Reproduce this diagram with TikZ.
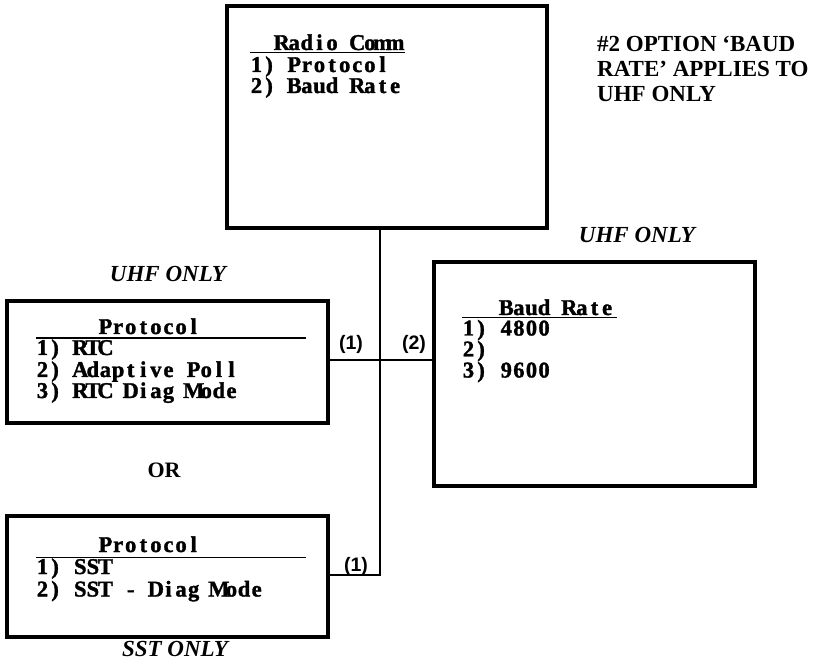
\documentclass[tikz,border=0pt]{standalone}
\usepackage{fontspec}
\setmainfont{Liberation Serif}
\newfontfamily\sansf{Liberation Sans}
\newfontfamily\boxf{Liberation Serif}[BoldFeatures={FakeBold=1.5}]
\ExplSyntaxOn
\NewDocumentCommand\gridtext{m}
  { \str_map_inline:nn {#1} { \makebox[12.6pt][c]{##1} } }
\ExplSyntaxOff
\begin{document}
\begin{tikzpicture}[x=1pt,y=-1pt,
  box/.style={draw,line width=4pt,rectangle,inner sep=0pt},
  conn/.style={line width=2pt},
  uline/.style={line width=1.8pt},
  mono/.style={font=\boxf\bfseries\fontsize{22.5}{22}\selectfont,anchor=base west,inner sep=0pt},
  note/.style={font=\bfseries\fontsize{23}{25}\selectfont,anchor=base west,inner sep=0pt},
  tag/.style={font=\bfseries\itshape\fontsize{23}{25}\selectfont,anchor=base,inner sep=0pt},
  num/.style={font=\sansf\bfseries\fontsize{19.5}{19.5}\selectfont,inner sep=0pt}]
\useasboundingbox (0,0) rectangle (820,668);
% boxes
\node[box,minimum width=320pt,minimum height=222pt] (top) at (387,117) {};
\node[box,minimum width=321pt,minimum height=122pt] (p1) at (167.5,362) {};
\node[box,minimum width=321pt,minimum height=121pt] (p2) at (167.5,576.5) {};
\node[box,minimum width=321pt,minimum height=224pt] (baud) at (594.5,374) {};
% connectors
\coordinate (j) at (380,575);
\coordinate (h) at (380,360);
\draw[conn] (top.south -| j) -- (j) -- (p2.east |- j);
\draw[conn] (p1.east |- h) -- (baud.west |- h);
% Radio Comm text
\node[mono] (rc0) at (275.2,50) {\gridtext{Radio Comm}};
\draw[uline] (250,52.5) -- (405,52.5);
\node[mono] (rc1) at (250,72) {\gridtext{1) Protocol}};
\node[mono] (rc2) at (250,93) {\gridtext{2) Baud Rate}};
% Protocol 1
\node[mono] (pa0) at (99,334) {\gridtext{Protocol}};
\draw[uline] (36,338) -- (306,338);
\node[mono] (pa1) at (36,355) {\gridtext{1) RTC}};
\node[mono] (pa2) at (36,377) {\gridtext{2) Adaptive Poll}};
\node[mono] (pa3) at (36,398) {\gridtext{3) RTC Diag Mode}};
% Protocol 2
\node[mono] (pb0) at (99,552) {\gridtext{Protocol}};
\draw[uline] (36,557.5) -- (306,557.5);
\node[mono] (pb1) at (36,574) {\gridtext{1) SST}};
\node[mono] (pb2) at (36,596.5) {\gridtext{2) SST - Diag Mode}};
% Baud Rate
\node[mono] (br0) at (499.8,315) {\gridtext{Baud Rate}};
\draw[uline] (462,317.5) -- (617,317.5);
\node[mono] (br1) at (462,335.5) {\gridtext{1) 4800}};
\node[mono] (br2) at (462,356.5) {\gridtext{2)}};
\node[mono] (br3) at (462,377.5) {\gridtext{3) 9600}};
% note
\node[note] (n1) at (597,52) {\#2 OPTION ‘BAUD};
\node[note] (n2) at (597,77) {RATE’ APPLIES TO};
\node[note] (n3) at (597,102) {UHF ONLY};
% tags
\node[tag] (t1) at (168,282) {UHF ONLY};
\node[tag] (t2) at (637,243) {UHF ONLY};
\node[tag] (t3) at (175,656) {SST ONLY};
\node[font=\bfseries\fontsize{22}{22}\selectfont,anchor=base,inner sep=0pt] (or) at (164,478) {OR};
% connector labels
\node[num] (l1) at (351,344) {(1)};
\node[num] (l2) at (414,344) {(2)};
\node[num] (l3) at (356,566) {(1)};
\end{tikzpicture}
\end{document}
